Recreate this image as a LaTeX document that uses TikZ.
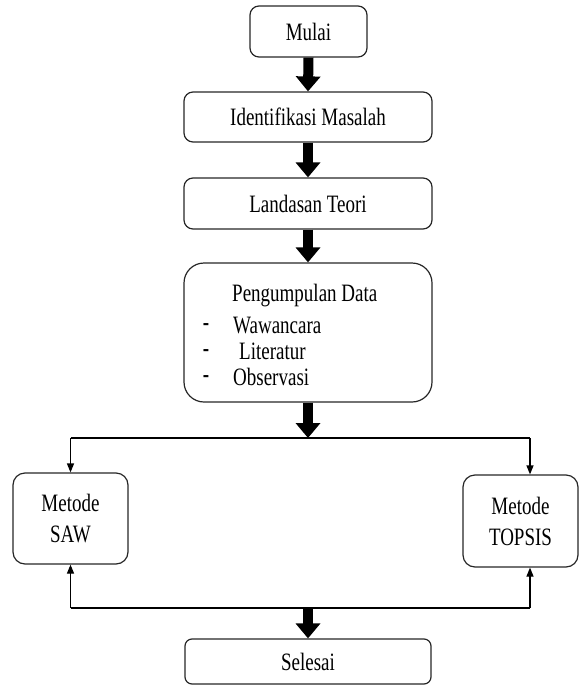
\documentclass[tikz,border=0pt]{standalone}
\usepackage{fontspec}
\setmainfont{Liberation Serif}[FakeStretch=0.76]
\usetikzlibrary{arrows.meta}
\tikzset{
  box/.style={draw=black!85, line width=1.2pt, rounded corners=9pt, inner sep=0pt, align=center, font=\fontsize{25}{31}\selectfont},
  txt/.style={inner sep=0pt, font=\fontsize{25}{28}\selectfont},
  dashmark/.style={inner sep=0pt, font=\fontsize{25}{28}\selectfont\bfseries},
  bigarrow/.style={line width=10pt, -{Triangle[width=24pt,length=15pt]}},
  thinarrow/.style={line width=1.2pt, -{Triangle[width=7pt,length=9pt]}},
  thinline/.style={line width=1.2pt}
}
\begin{document}
\begin{tikzpicture}[x=1pt,y=-1pt]
\useasboundingbox (0,0) rectangle (579,688);
\node[box, minimum width=117pt, minimum height=51pt] (mulai) at (308.5,31.5) {Mulai};
\node[box, minimum width=248pt, minimum height=50pt] (ident) at (308,117) {Identifikasi Masalah};
\node[box, minimum width=248pt, minimum height=51pt] (teori) at (308,203.5) {Landasan Teori};
\node[box, rounded corners=20pt, minimum width=248pt, minimum height=139pt] (data) at (308,332.5) {};
\node[txt, anchor=base west] (t0) at (232,301) {Pengumpulan Data};
\node[dashmark, anchor=base] (d1) at (206,330) {-};
\node[txt, anchor=base west] (t1) at (233,333) {Wawancara};
\node[dashmark, anchor=base] (d2) at (206,356) {-};
\node[txt, anchor=base west] (t2) at (239,359) {Literatur};
\node[dashmark, anchor=base] (d3) at (206,382) {-};
\node[txt, anchor=base west] (t3) at (233,385) {Observasi};
\node[box, rounded corners=12pt, minimum width=115pt, minimum height=91pt] (saw) at (70.5,518.5) {Metode\\SAW};
\node[box, rounded corners=12pt, minimum width=115pt, minimum height=92pt] (topsis) at (520.5,521) {Metode\\TOPSIS};
\node[box, rounded corners=7pt, minimum width=246pt, minimum height=45pt] (selesai) at (308,661.5) {Selesai};
\coordinate (bl) at (70.5,438);
\coordinate (br) at (530,438);
\coordinate (jt) at (308,438);
\coordinate (cl) at (70.5,608);
\coordinate (cr) at (530,608);
\coordinate (jb) at (308,608);
\draw[bigarrow] (mulai.south) -- (ident.north);
\draw[bigarrow] (ident.south) -- (teori.north);
\draw[bigarrow] (teori.south) -- (data.north);
\draw[bigarrow] (data.south) -- (jt);
\draw[thinline] (bl) -- (br);
\draw[thinarrow] (bl) -- (saw.north);
\draw[thinarrow] (br) -- (br |- topsis.north);
\draw[thinline] (cl) -- (cr);
\draw[thinarrow] (cl) -- (saw.south);
\draw[thinarrow] (cr) -- (cr |- topsis.south);
\draw[bigarrow] (jb) -- (selesai.north);
\end{tikzpicture}
\end{document}
